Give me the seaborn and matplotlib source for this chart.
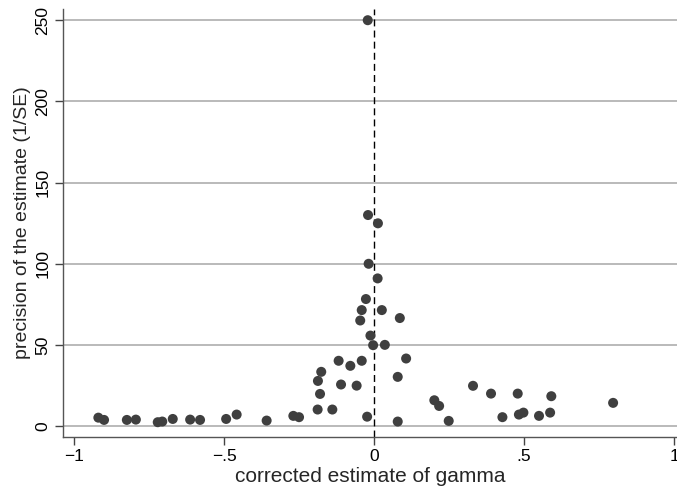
import numpy as np
import pandas as pd
import matplotlib
matplotlib.use("Agg")
import matplotlib.pyplot as plt
import seaborn as sns

# corrected estimate of gamma vs precision (1/SE)
gamma = [-0.919, -0.900, -0.824, -0.794, -0.721, -0.706, -0.671, -0.613, -0.580,
         -0.493, -0.458, -0.358, -0.269, -0.250,
         -0.021, -0.020, 0.013, -0.018, 0.012, -0.027, -0.041, 0.026, -0.046, 0.086,
         -0.012, -0.003, 0.036, -0.118, -0.079, -0.041, 0.107, -0.176, -0.187, -0.110,
         -0.058, 0.079, -0.180, -0.188, -0.139, -0.023, 0.079,
         0.201, 0.217, 0.249, 0.330, 0.390, 0.428, 0.479, 0.483, 0.498, 0.550,
         0.591, 0.587, 0.797]
precision = [5.4, 4.0, 4.0, 4.2, 2.6, 3.0, 4.6, 4.2, 4.0,
             4.6, 7.3, 3.6, 6.5, 5.7,
             250.0, 130.1, 125.0, 100.1, 91.1, 78.4, 71.6, 71.6, 65.2, 66.7,
             55.9, 50.0, 50.2, 40.4, 37.3, 40.4, 41.8, 33.6, 28.0, 25.8,
             25.1, 30.5, 20.0, 10.4, 10.4, 6.0, 3.0,
             16.1, 12.6, 3.4, 25.0, 20.2, 5.7, 20.2, 7.3, 8.5, 6.5,
             18.6, 8.5, 14.5]

df = pd.DataFrame({"gamma": gamma, "precision": precision})

sns.set_style("white")
plt.rcParams['font.family'] = ['Liberation Sans', 'DejaVu Sans']

fig = plt.figure(figsize=(6.77, 4.91), dpi=100)
ax = fig.add_axes([0.093, 0.110, 0.907, 0.872])

for yv in [0, 50, 100, 150, 200, 250]:
    ax.axhline(yv, color="#b4b4b4", lw=1.3, zorder=0)
ax.axvline(0, color="black", lw=1.0, ls=(0, (5, 3)), zorder=1)

sns.scatterplot(data=df, x="gamma", y="precision", ax=ax, color="#3f3f3f",
                s=52, edgecolor="none", zorder=3, legend=False)

ax.set_xlim(-1.037, 1.01)
ax.set_ylim(-6.5, 257)
ax.set_xticks([-1, -0.5, 0, 0.5, 1])
ax.set_xticklabels(["\u22121", "\u2212.5", "0", ".5", "1"])
ax.set_yticks([0, 50, 100, 150, 200, 250])
ax.set_yticklabels(["0", "50", "100", "150", "200", "250"], rotation=90, va="center")

ax.tick_params(axis="both", direction="out", length=6, width=1, color="#444444",
               labelsize=12.5, labelcolor="black", pad=3, left=True, bottom=True)
for side in ["top", "right"]:
    ax.spines[side].set_visible(False)
for side in ["left", "bottom"]:
    ax.spines[side].set_color("#555555")
    ax.spines[side].set_linewidth(1.0)

ax.set_xlabel("corrected estimate of gamma", fontsize=15, labelpad=2)
ax.set_ylabel("precision of the estimate (1/SE)", fontsize=14, labelpad=3)

fig.savefig("out.png", dpi=100)
